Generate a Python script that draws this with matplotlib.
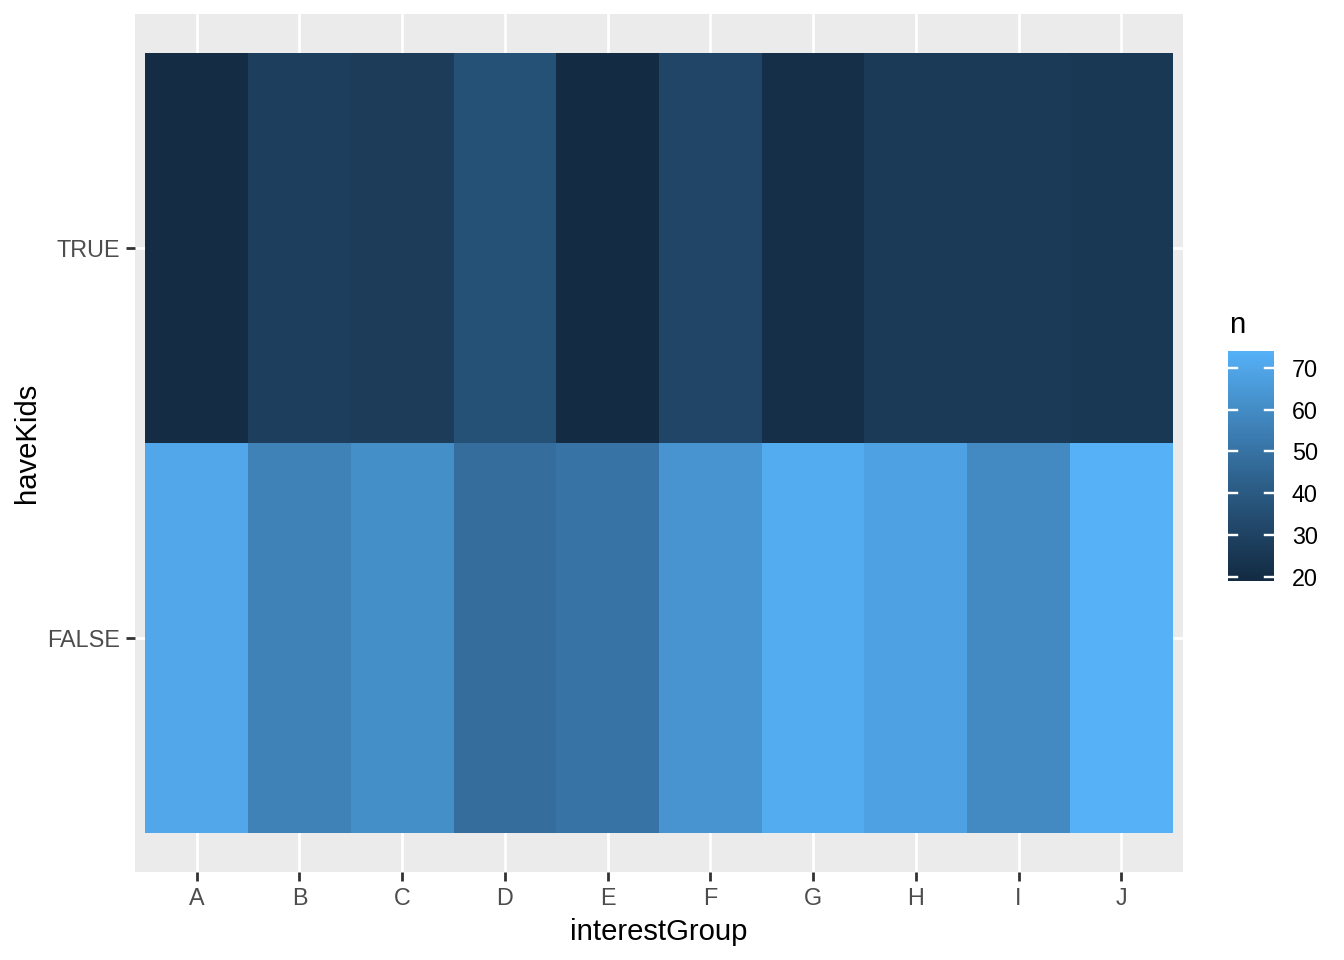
import numpy as np
import matplotlib
matplotlib.use("Agg")
import matplotlib.pyplot as plt
from matplotlib.colors import ListedColormap, Normalize, to_rgb

groups = ["A", "B", "C", "D", "E", "F", "G", "H", "I", "J"]
have_kids = ["FALSE", "TRUE"]
n_true = [20, 28, 27, 36, 19, 31, 21, 26, 26, 25]
n_false = [70, 56, 61, 48, 50, 63, 72, 68, 59, 74]

plt.rcParams["font.family"] = ["Liberation Sans", "DejaVu Sans"]

# ggplot2 default continuous gradient (Lab interpolation)
def srgb_to_lab(c):
    c = np.asarray(c, float)
    lin = np.where(c <= 0.04045, c / 12.92, ((c + 0.055) / 1.055) ** 2.4)
    M = np.array([[0.4124, 0.3576, 0.1805], [0.2126, 0.7152, 0.0722], [0.0193, 0.1192, 0.9505]])
    xyz = M @ lin
    wp = np.array([0.95047, 1.0, 1.08883])
    t = xyz / wp
    f = np.where(t > (6/29) ** 3, np.cbrt(t), t / (3 * (6/29) ** 2) + 4/29)
    return np.array([116 * f[1] - 16, 500 * (f[0] - f[1]), 200 * (f[1] - f[2])])

def lab_to_srgb(lab):
    L, a, b = lab
    fy = (L + 16) / 116
    fx = fy + a / 500
    fz = fy - b / 200
    def finv(f):
        return f ** 3 if f > 6/29 else 3 * (6/29) ** 2 * (f - 4/29)
    wp = np.array([0.95047, 1.0, 1.08883])
    xyz = wp * np.array([finv(fx), finv(fy), finv(fz)])
    Minv = np.array([[3.2406, -1.5372, -0.4986], [-0.9689, 1.8758, 0.0415], [0.0557, -0.2040, 1.0570]])
    lin = Minv @ xyz
    lin = np.clip(lin, 0, 1)
    c = np.where(lin <= 0.0031308, 12.92 * lin, 1.055 * lin ** (1/2.4) - 0.055)
    return np.clip(c, 0, 1)

lo = srgb_to_lab(to_rgb("#132B43"))
hi = srgb_to_lab(to_rgb("#56B1F7"))
cols = [lab_to_srgb(lo + (hi - lo) * t) for t in np.linspace(0, 1, 256)]
cmap = ListedColormap(cols)

data = np.array([n_false, n_true])
vmin, vmax = data.min(), data.max()
norm = Normalize(vmin=vmin, vmax=vmax)

W, H = 1344, 960
dpi = 144
fig = plt.figure(figsize=(W / dpi, H / dpi), dpi=dpi)

def ax_px(x0, y0, x1, y1):
    return fig.add_axes([x0 / W, 1 - y1 / H, (x1 - x0) / W, (y1 - y0) / H])

TICK_FS = 11.7
TITLE_FS = 14.6

ax = ax_px(135, 14, 1183, 872)
ax.set_facecolor("#EBEBEB")
ax.set_xlim(0.4, 10.6)
ax.set_ylim(0.4, 2.6)
xs = np.arange(1, len(groups) + 1)
ys = np.arange(1, len(have_kids) + 1)
ax.set_xticks(xs)
ax.set_xticklabels(groups)
ax.set_yticks(ys)
ax.set_yticklabels(have_kids)
ax.grid(True, color="white", linewidth=1.4)
ax.set_axisbelow(True)
ax.pcolormesh(np.arange(0.5, len(groups) + 1), np.arange(0.5, len(have_kids) + 1), data,
              cmap=cmap, norm=norm, zorder=2)
for s in ax.spines.values():
    s.set_visible(False)
ax.tick_params(axis="both", colors="#333333", length=4.4, width=1.4, labelsize=TICK_FS,
               labelcolor="#4D4D4D", pad=3)
ax.set_xlabel("interestGroup", fontsize=TITLE_FS, color="black", labelpad=4)
ax.set_ylabel("haveKids", fontsize=TITLE_FS, color="black", labelpad=3)

cax = ax_px(1228, 351, 1274, 581)
grad = np.linspace(vmin, vmax, 300).reshape(-1, 1)
cax.imshow(grad, aspect="auto", cmap=cmap, norm=norm, origin="lower",
           extent=[0, 1, vmin, vmax])
cax.set_xlim(0, 1)
cax.set_ylim(vmin, vmax)
ticks = [20, 30, 40, 50, 60, 70]
for t in ticks:
    cax.plot([0, 0.2], [t, t], color="white", lw=1.2)
    cax.plot([0.8, 1], [t, t], color="white", lw=1.2)
cax.set_xticks([])
cax.yaxis.tick_right()
cax.set_yticks(ticks)
cax.set_yticklabels([str(t) for t in ticks])
cax.tick_params(axis="y", length=0, labelsize=TICK_FS, labelcolor="black", pad=9)
for s in cax.spines.values():
    s.set_visible(False)
fig.text(1229 / W, 1 - 325 / H, "n", fontsize=TITLE_FS, color="black", va="center", ha="left")

fig.savefig("out.png", dpi=dpi, facecolor="white")
